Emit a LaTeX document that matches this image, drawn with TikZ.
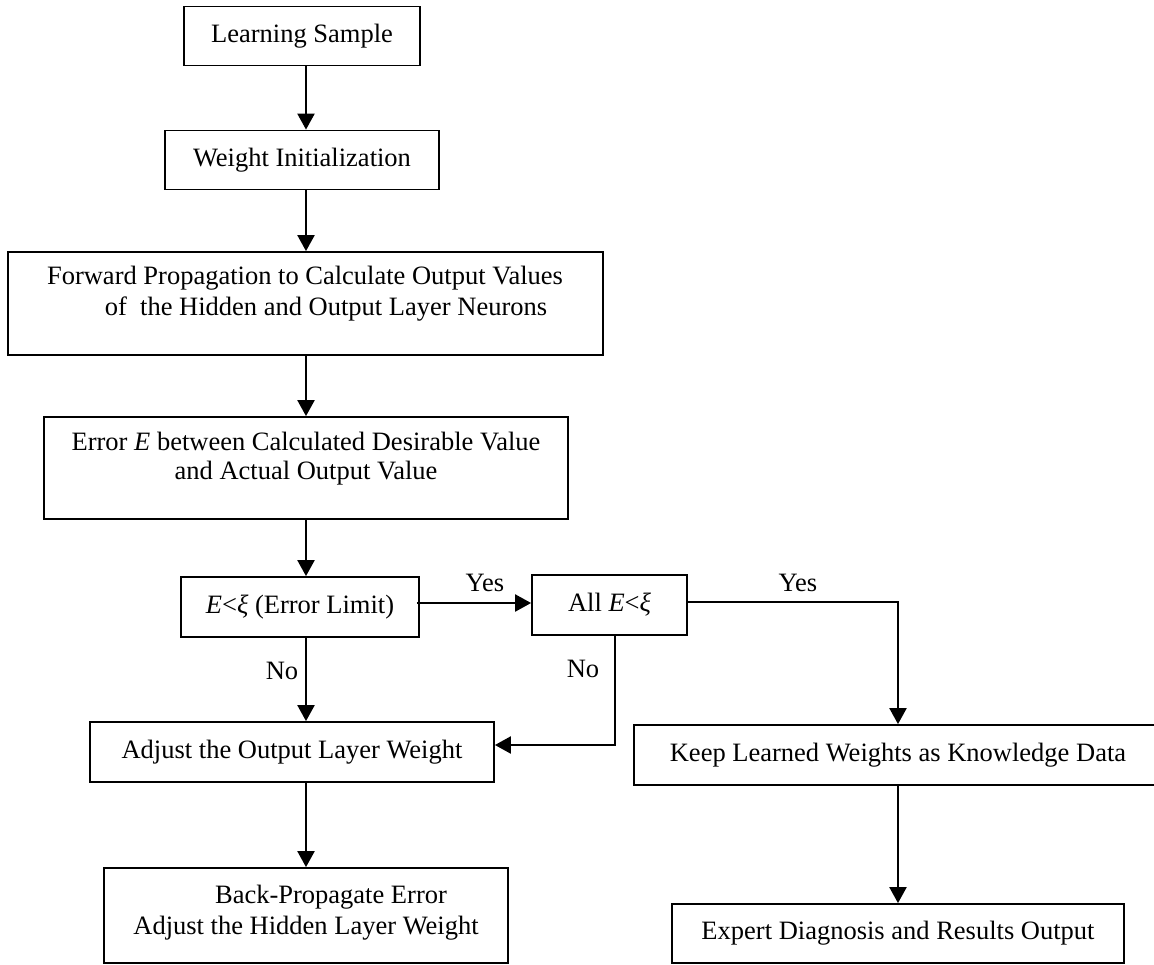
\documentclass[tikz,border=0pt]{standalone}
\usepackage{fontspec}
\setmainfont{Liberation Serif}
\usetikzlibrary{arrows.meta}
\begin{document}
\begin{tikzpicture}[x=1pt,y=-1pt,
  font=\fontsize{26.5}{30.5}\selectfont,
  box/.style={draw, line width=1.8pt, rectangle, inner sep=0pt, anchor=center},
  txt/.style={inner sep=0pt, anchor=center},
  arr/.style={line width=2.2pt, -{Triangle[width=17pt,length=16pt]}},
  lin/.style={line width=2.2pt}]
\useasboundingbox (0,0) rectangle (1154,964);
% boxes
\node[box, minimum width=236pt, minimum height=59pt] (ls) at (302,36) {Learning Sample};
\node[box, minimum width=274pt, minimum height=59pt] (wi) at (302,160) {Weight Initialization};
\node[box, minimum width=595pt, minimum height=103pt] (fp) at (305.5,303.5) {};
\node[box, minimum width=524pt, minimum height=102pt] (er) at (306,468) {};
\node[box, minimum width=238pt, minimum height=60pt] (el) at (300,607) {\textit{E}<\textit{ξ} (Error Limit)};
\node[box, minimum width=155pt, minimum height=60pt] (all) at (609.5,605) {All \textit{E}<\textit{ξ}};
\node[box, minimum width=404pt, minimum height=60pt] (ao) at (292,752) {Adjust the Output Layer Weight};
\node[box, minimum width=404pt, minimum height=95pt] (bp) at (306,915.5) {};
\node[box, minimum width=528pt, minimum height=60pt] (kp) at (898,755) {Keep Learned Weights as Knowledge Data};
\node[box, minimum width=452pt, minimum height=59pt] (ex) at (898,933.5) {Expert Diagnosis and Results Output};
% multi-line texts
\node[txt] (fp1) at (305,278) {Forward Propagation to Calculate Output Values};
\node[txt] (fp2) at (326,309) {of\ \ the Hidden and Output Layer Neurons};
\node[txt] (er1) at (306,442) {Error \textit{E} between Calculated Desirable Value};
\node[txt] (er2) at (306,473) {and Actual Output Value};
\node[txt] (bp1) at (331,897) {Back-Propagate Error};
\node[txt] (bp2) at (306,928) {Adjust the Hidden Layer Weight};
% labels
\node[txt] (yes1) at (485,583) {Yes};
\node[txt] (yes2) at (798,583) {Yes};
\node[txt] (no1) at (282,671) {No};
\node[txt] (no2) at (583,669) {No};
% helper coordinates
\coordinate (cx) at (306,0);
\coordinate (cr) at (898,0);
\coordinate (cn) at (615,0);
\coordinate (yy) at (0,603);
\coordinate (ya) at (0,602);
\coordinate (yb) at (0,745);
% connectors
\draw[arr] (ls.south -| cx) -- (wi.north -| cx);
\draw[arr] (wi.south -| cx) -- (fp.north -| cx);
\draw[arr] (fp.south -| cx) -- (er.north -| cx);
\draw[arr] (er.south -| cx) -- (el.north -| cx);
\draw[arr] (el.south -| cx) -- (ao.north -| cx);
\draw[arr] (ao.south -| cx) -- (bp.north -| cx);
\draw[arr] ([xshift=-3pt]el.east |- yy) -- (all.west |- yy);
\draw[arr] (all.east |- ya) -- (cr |- ya) -- (kp.north -| cr);
\draw[arr] (all.south -| cn) -- (cn |- yb) -- (ao.east |- yb);
\draw[arr] (kp.south -| cr) -- (ex.north -| cr);
\end{tikzpicture}
\end{document}
